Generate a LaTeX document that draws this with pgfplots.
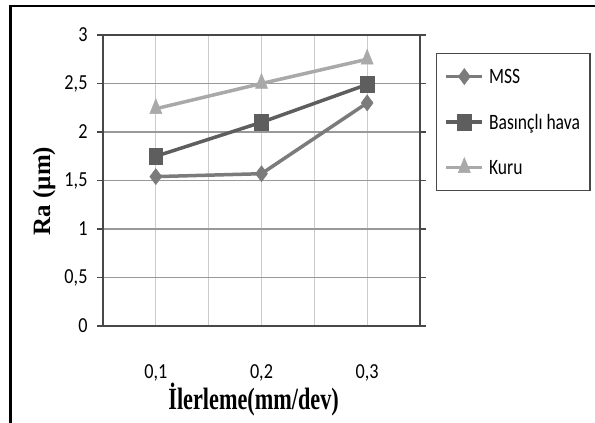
\documentclass[border=0pt]{standalone}
\usepackage{pgfplots}
\pgfplotsset{compat=1.18}
\usepackage{fontspec}
\setmainfont{Carlito}
\newfontfamily\tickfont{Carlito}[FakeStretch=0.85]
\newfontfamily\legfont{Carlito}[FakeStretch=0.8]
\newfontfamily\labfont{Liberation Serif}
\newfontfamily\xlabfont{Liberation Serif}[FakeStretch=0.72]
\definecolor{cmss}{HTML}{7B7B7B}
\definecolor{cbh}{HTML}{5E5E5E}
\definecolor{ckuru}{HTML}{A9A9A9}
\definecolor{caxis}{HTML}{484848}
\begin{document}
\begin{tikzpicture}
\useasboundingbox (0,0) rectangle (595bp,423bp);
\draw[line width=2.5bp, black] (10.5bp,-5bp) -- (10.5bp,417bp) -- (600bp,417bp);
\begin{axis}[
  at={(103bp,97bp)}, anchor=south west,
  width=317bp, height=291bp, scale only axis,
  xmin=0.5, xmax=3.5, ymin=0, ymax=3,
  xtick={1,2,3}, xticklabels={{0,1},{0,2},{0,3}},
  minor xtick={1.5,2.5},
  ytick={0,0.5,1,1.5,2,2.5,3}, yticklabels={0,{0,5},1,{1,5},2,{2,5},3},
  xmajorgrids, xminorgrids, ymajorgrids,
  x grid style={color=black!20, line width=1bp},
  minor x grid style={color=black!20, line width=1bp},
  y grid style={color=black!40, line width=1.2bp},
  axis line style={draw=caxis, line width=1.2bp},
  tick align=outside,
  xtick style={draw=none},
  minor tick style={draw=none},
  ytick style={draw=caxis, line width=1.2bp},
  major tick length=6bp,
  tick label style={font=\tickfont\fontsize{21.5}{21.5}\selectfont},
  /pgf/number format/assume math mode=true,
  xticklabel style={anchor=base, yshift=-46bp},
  yticklabel style={anchor=east, xshift=-6bp},
  xlabel={\xlabfont\bfseries \.{I}lerleme(mm/dev)},
  xlabel style={at={(axis description cs:0.475,-0.288)}, anchor=base, font=\fontsize{31}{31}\selectfont},
  ylabel={\labfont\bfseries Ra (µm)},
  ylabel style={at={(axis description cs:-0.186,0.464)}, anchor=center, font=\fontsize{25}{25}\selectfont},
  legend style={at={(1,1)}, anchor=north west, xshift=16bp, yshift=-18bp,
    draw=caxis, line width=1.2bp, inner xsep=8bp, inner ysep=12bp,
    column sep=3bp, row sep=23.5bp,
    font=\legfont\fontsize{22}{22}\selectfont,
    nodes={text height=16bp, text depth=2bp, inner sep=2bp}},
  legend cell align=left,
  legend image code/.code={\draw[#1, mark repeat=2, mark phase=2] plot coordinates {(0bp,0bp) (18bp,0bp) (36bp,0bp)};},
]
\addplot[color=cmss, line width=3.5bp, mark=diamond*, mark size=8bp, mark options={solid, fill=cmss, line width=0.5bp}]
  coordinates {(1,1.54) (2,1.57) (3,2.30)};
\addlegendentry{MSS}
\addplot[color=cbh, line width=3.5bp, mark=square*, mark size=8bp, mark options={solid, fill=cbh, xscale=0.85, line width=0.5bp}]
  coordinates {(1,1.75) (2,2.10) (3,2.49)};
\addlegendentry{Basınçlı hava}
\addplot[color=ckuru, line width=3.5bp, mark=triangle*, mark size=10bp, mark options={solid, fill=ckuru, xscale=0.7, line width=0.5bp}]
  coordinates {(1,2.24) (2,2.50) (3,2.75)};
\addlegendentry{Kuru}
\end{axis}
\end{tikzpicture}
\end{document}
